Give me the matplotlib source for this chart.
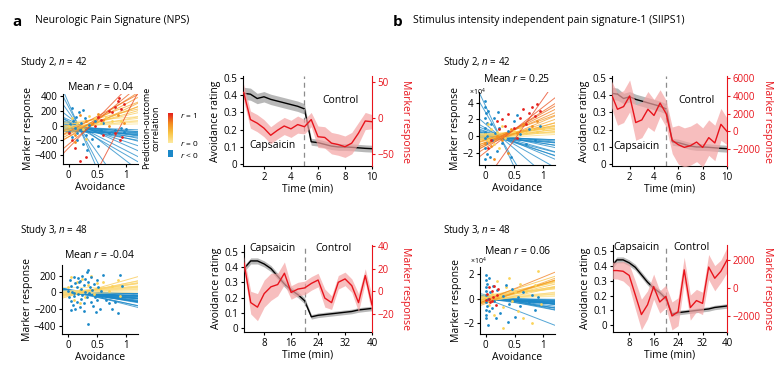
import numpy as np
import matplotlib
matplotlib.use("Agg")
import matplotlib.pyplot as plt
from matplotlib.colors import LinearSegmentedColormap

plt.rcParams['font.family'] = ['Open Sans', 'DejaVu Sans']
plt.rcParams['mathtext.fontset'] = 'custom'
plt.rcParams['mathtext.it'] = 'Open Sans:italic'
plt.rcParams['mathtext.rm'] = 'Open Sans'

# ---- time course data ----
t_s2 = [0.5, 1.0, 1.5, 2.0, 2.5, 3.0, 3.5, 4.0, 4.5, 5.0,
        5.5, 6.0, 6.5, 7.0, 7.5, 8.0, 8.5, 9.0, 9.5, 10.0]
t_s3 = [2, 4, 6, 8, 10, 12, 14, 16, 18, 20, 22, 24, 26, 28, 30, 32, 34, 36, 38, 40]

# avoidance rating (same in a and b)
avoid_s2 = [0.41, 0.405, 0.38, 0.39, 0.375, 0.365, 0.355, 0.345, 0.335, 0.32,
            0.13, 0.125, 0.115, 0.105, 0.10, 0.10, 0.098, 0.095, 0.092, 0.09]
avoid_s2_se = [0.035, 0.035, 0.03, 0.03, 0.03, 0.03, 0.03, 0.03, 0.03, 0.03,
               0.02, 0.02, 0.02, 0.02, 0.02, 0.02, 0.02, 0.02, 0.02, 0.02]
avoid_s3 = [0.39, 0.44, 0.44, 0.42, 0.39, 0.34, 0.29, 0.25, 0.22, 0.18,
            0.075, 0.085, 0.09, 0.095, 0.10, 0.105, 0.11, 0.12, 0.125, 0.13]
avoid_s3_se = [0.02, 0.02, 0.02, 0.02, 0.02, 0.02, 0.02, 0.02, 0.02, 0.02,
               0.015, 0.015, 0.015, 0.015, 0.015, 0.015, 0.015, 0.015, 0.015, 0.015]

# marker response time courses
nps_s2 = [36, -2, -7, -14, -24, -17, -11, -15, -9, -12,
          -2, -26, -27, -35, -37, -40, -35, -21, -4, -5]
nps_s2_se = [12, 12, 12, 12, 12, 12, 12, 12, 12, 10,
             10, 15, 15, 15, 15, 15, 15, 15, 12, 10]
nps_s3 = [25, -10, -14, -2, 4, 6, 16, -1, 2, 3,
          7, 10, -6, -10, 8, 11, 5, -10, 14, -12]
nps_s3_se = [6, 10, 12, 12, 12, 10, 10, 6, 6, 6,
             6, 6, 8, 6, 6, 6, 6, 8, 6, 8]
siips_s2 = [4200, 2500, 2800, 4000, 1000, 1300, 2500, 1800, 3200, 2000,
            -1000, -1500, -1800, -1600, -1200, -1800, -700, -1300, 800, 0]
siips_s2_se = [1500, 1800, 1800, 1800, 2000, 2000, 2000, 1800, 1500, 1500,
               1500, 2200, 2200, 2200, 2200, 2200, 2000, 2000, 1800, 1500]
siips_s3 = [1250, 1250, 1200, 900, -500, -1900, -1200, 100, -1000, -600,
            -2000, -1700, 1300, -1400, -900, -1100, 1500, 700, 1200, 2000]
siips_s3_se = [600, 600, 700, 800, 1000, 1100, 1000, 900, 800, 800,
               1000, 1000, 900, 900, 800, 800, 900, 900, 800, 900]

# ---- per-subject regression lines: r, intercept, slope ----
a2_r = [-0.1, -0.15, -0.2, -0.2, -0.25, -0.3, -0.3, -0.35, -0.4, -0.4, -0.45,
        -0.5, -0.5, -0.55, -0.6, -0.6, -0.65, -0.7, -0.3, -0.2, -0.5, -0.4,
        0.05, 0.08, 0.1, 0.12, 0.15, 0.18, 0.2, 0.25,
        0.35, 0.4, 0.45, 0.5, 0.5, 0.55, 0.4,
        0.7, 0.8, 0.9, 0.85, 0.75]
a2_b0 = [-20, -30, -10, 0, -40, 10, -50, 20, 30, -20, 40,
         60, 250, 300, 180, 50, 80, -60, -70, -80, 120, -30,
         0, -10, 30, -30, -20, 50, -60, -40,
         -60, -100, -80, -150, -40, -120, 10,
         -150, -250, -1350, -300, -80]
a2_b1 = [-30, -40, -60, -80, -50, -120, -60, -160, -200, -100, -260,
         -400, -1500, -1800, -1100, -450, -350, -80, -40, -20, -600, -140,
         20, 50, 30, 80, 100, 60, 150, 180,
         220, 300, 280, 380, 300, 420, 180,
         500, 650, 1500, 800, 420]

a3_r = [-0.05, -0.1, -0.1, -0.15, -0.2, -0.2, -0.25, -0.3, -0.3, -0.35, -0.1, -0.35,
        -0.4, -0.1, -0.2, -0.4, -0.15, -0.1, -0.45, -0.5, -0.2, -0.25, -0.25, -0.3,
        -0.5, -0.05, -0.3, -0.35,
        0.05, 0.08, 0.1, 0.12, 0.06, 0.15, 0.1, 0.18, 0.12, 0.03, 0.2, 0.15,
        0.05, 0.08, 0.18, 0.2, 0.06, 0.1, 0.3, 0.02]
a3_b0 = [0, 10, -10, 20, 5, -5, 15, 30, 0, 10, -20, 25, 40, -10, 5, 20, 0, -15,
         10, 30, -5, 15, 0, 20, 35, -10, 5, 10,
         -20, -10, 0, -30, 10, -15, 5, -25, -5, 20, -40, 0, -10, 15, -20, -30,
         10, -5, -50, 60]
a3_b1 = [-10, -20, -30, -40, -50, -60, -70, -80, -90, -100, -15, -110, -130, -25,
         -45, -120, -35, -20, -140, -160, -55, -75, -65, -95, -180, -5, -85, -105,
         20, 40, 60, 80, 30, 100, 50, 120, 70, 10, 150, 90, 25, 45, 110, 140,
         35, 65, 200, 0]

b2_r = [-0.2, -0.1, -0.1, -0.3, -0.2, -0.4, -0.5, -0.6, -0.7, -0.5, -0.3, -0.05,
        -0.4, -0.15, -0.35, -0.5, -0.4, -0.1,
        0.1, 0.15, 0.05, 0.2, 0.12, 0.25, 0.03, 0.1, 0.3, 0.2,
        0.4, 0.45, 0.35, 0.5, 0.45, 0.55, 0.35,
        0.7, 0.8, 0.65, 0.85, 0.75, 0.9, 0.6]
b2_b0 = [0.2, 0.0, -0.1, 0.3, 0.1, 0.5, 0.8, 3.0, 3.8, 1.5, 0.4, -0.2, 0.6, 0.0,
         0.2, 1.0, 0.3, -0.3,
         0.0, -0.2, 0.2, -0.4, 0.1, -0.1, 0.3, -0.3, 0.0, 0.2,
         -0.5, -0.8, -0.3, -1.0, -0.6, -1.2, -0.4,
         -1.0, -1.5, -0.8, -2.0, -1.2, -5.5, -0.5]
b2_b1 = [-0.8, -0.5, -0.3, -1.2, -1.0, -2.0, -3.0, -12, -15, -6, -1.5, -0.2, -2.5,
         -0.7, -1.8, -4, -2.2, -0.4,
         0.3, 0.6, 0.2, 0.8, 0.5, 0.9, 0.1, 0.4, 1.0, 0.6,
         1.5, 2.0, 1.2, 2.5, 1.8, 3.0, 1.0,
         3.5, 4.5, 3.0, 5.5, 4.0, 10, 2.5]

b3_r = [-0.05, -0.1, -0.05, -0.15, -0.2, -0.25, -0.1, -0.3, -0.15, -0.35, -0.05,
        -0.2, -0.6, -0.25, -0.4, -0.1, -0.15, -0.3, -0.05, -0.25, -0.2, -0.1, -0.3,
        -0.35,
        0.05, 0.1, 0.08, 0.15, 0.2, 0.12, 0.25, 0.18, 0.22, 0.3, 0.1, 0.3, 0.06,
        0.28, 0.15, 0.35, 0.08, 0.2, 0.32, 0.04,
        0.5, 0.45, 0.7, 0.6]
b3_b0 = [0.0, 0.1, -0.1, 0.05, 0.0, 0.15, -0.05, 0.1, 0.0, 0.2, -0.1, 0.05, 0.0,
         0.1, 0.3, 0.0, -0.05, 0.1, 0.0, 0.2, 0.05, -0.1, 0.0, 0.15,
         0.0, -0.1, 0.1, -0.2, 0.0, 0.2, -0.3, 0.1, -0.1, 0.0, 0.3, -0.2, 0.05,
         -0.15, 0.1, 0.0, -0.05, 0.2, -0.25, 0.0,
         -0.4, -0.2, -0.15, -0.3]
b3_b1 = [-0.1, -0.2, -0.05, -0.3, -0.4, -0.5, -0.15, -0.6, -0.25, -0.8, -0.1,
         -0.35, -1.8, -0.45, -1.0, -0.2, -0.3, -0.7, -0.05, -0.55, -0.4, -0.2,
         -0.65, -0.9,
         0.2, 0.4, 0.3, 0.6, 0.8, 0.5, 1.0, 0.7, 0.9, 1.2, 0.4, 1.3, 0.25, 1.1,
         0.6, 1.5, 0.35, 0.9, 1.4, 0.15,
         1.7, 1.4, 1.9, 1.5]

# ---- single-trial points (avoidance, marker response) by colour group ----
a2_blue = [(0.0, -80), (0.02, 20), (0.05, -150), (0.08, 60), (0.1, -30), (0.12, 120),
           (0.15, -200), (0.18, 180), (0.2, -60), (0.22, 40), (0.25, -250), (0.28, 100),
           (0.3, -120), (0.32, -330), (0.35, 10), (0.4, -180), (0.45, 60), (0.5, -280),
           (0.55, -60), (0.6, 30), (0.7, -100), (0.8, -60), (0.9, -30), (0.95, -80),
           (1.0, -40), (0.05, 240), (0.15, -100), (0.25, 210)]
a2_yellow = [(0.0, -10), (0.05, 100), (0.15, 40), (0.25, -40), (0.35, 130), (0.45, 100),
             (0.55, 40), (0.65, 120), (0.75, 60), (0.9, 70), (0.3, -180)]
a2_orange = [(0.1, -120), (0.2, 150), (0.3, 60), (0.4, 20), (0.5, 160), (0.6, 80),
             (0.7, 0), (0.85, 140), (0.95, 30), (0.1, -220)]
a2_red = [(0.0, -100), (0.05, -200), (0.1, -300), (0.2, -480), (0.45, -10), (0.5, 120),
          (0.55, 80), (0.6, -120), (0.7, 200), (0.75, 180), (0.8, 260), (0.85, 330),
          (0.88, -200), (0.9, 230), (0.95, 300), (0.92, -160), (0.3, -420), (0.8, -100),
          (0.87, 380)]

a3_blue = [(0.0, 20), (0.02, -60), (0.03, 150), (0.05, -100), (0.05, 80), (0.07, 0),
           (0.08, -150), (0.1, 190), (0.1, -40), (0.12, 110), (0.13, -200), (0.15, 60),
           (0.15, -120), (0.17, 170), (0.18, -20), (0.2, 140), (0.2, -170), (0.22, 40),
           (0.23, -80), (0.25, 200), (0.25, -30), (0.27, 90), (0.28, -130), (0.3, 160),
           (0.3, 10), (0.32, -60), (0.33, 250), (0.35, 120), (0.35, -380), (0.37, -10),
           (0.38, 70), (0.4, -110), (0.4, 180), (0.42, 30), (0.43, -160), (0.45, 100),
           (0.47, -50), (0.5, 150), (0.5, -90), (0.52, 60), (0.55, -200), (0.57, 20),
           (0.6, 210), (0.62, -30), (0.65, -90), (0.7, -130), (0.75, -200), (0.8, -110),
           (0.85, -250), (0.9, 210), (0.92, 80), (0.35, 270), (0.1, -5), (0.28, -220),
           (0.48, -230), (0.58, -40), (0.06, -210), (0.19, 120)]
a3_yellow = [(0.0, 60), (0.05, 180), (0.1, -90), (0.15, 120), (0.2, 30), (0.25, 160),
             (0.3, -60), (0.35, 90), (0.4, 200), (0.45, -20), (0.5, 110), (0.55, 40),
             (0.6, 130), (0.7, 20), (0.75, 80), (0.85, 150), (0.9, -40), (0.2, -130)]

b2_blue = [(0, 4.2), (0, 3.5), (0.02, 2.8), (0, 2.2), (0.03, 1.6), (0, 1.0), (0.01, 0.5),
           (0, -0.3), (0.02, -0.9), (0, -1.5), (0.04, -2.2), (0, -2.8), (0.05, 3.0),
           (0.1, 1.5), (0.12, -0.5), (0.15, 2.2), (0.18, 0.3), (0.2, -1.8), (0.25, 1.0),
           (0.3, -0.8), (0.4, 0.6), (0.45, -2.5), (0.5, 1.8), (0.55, 2.5), (0.6, 0.2),
           (0.7, -1.0), (0.75, 0.8), (0.85, -0.5), (0.95, 1.2), (0.08, -2.5), (0.03, 0.0),
           (0.22, 2.9)]
b2_yellow = [(0, 0.2), (0.05, -0.5), (0.1, 0.8), (0.15, -1.0), (0.2, 0.5), (0.3, 1.2),
             (0.35, -0.3), (0.5, 0.6), (0.6, 1.0), (0.7, 0.3), (0.8, 0.9), (0.9, 0.5),
             (1.0, 0.8), (0.25, -1.5), (0.05, 1.5)]
b2_orange = [(0, -0.8), (0.1, -1.2), (0.2, 0.0), (0.3, -0.5), (0.45, 0.9), (0.55, 0.4),
             (0.65, 1.5), (0.8, 1.2), (0.9, 1.8), (0.15, -2.8), (0.4, -2.0)]
b2_red = [(0.05, -1.5), (0.1, -0.5), (0.2, 1.8), (0.25, 0.8), (0.3, 2.0), (0.35, 1.2),
          (0.5, 1.0), (0.6, 2.2), (0.65, 3.2), (0.7, 1.5), (0.75, 2.8), (0.8, 3.5),
          (0.85, 2.4), (0.9, 3.8), (0.95, 3.0), (0.4, 2.6), (0.55, -0.3)]

b3_blue = [(0, 1.9), (0, 1.5), (0.02, 1.2), (0, 0.9), (0.01, 0.6), (0, 0.3), (0.03, 0.0),
           (0, -0.3), (0.02, -0.6), (0, -0.9), (0.01, -1.3), (0, -1.6), (0.03, -2.1),
           (0.05, 1.7), (0.08, 0.5), (0.1, -0.8), (0.12, 1.0), (0.15, -0.2), (0.2, 0.7),
           (0.25, -1.2), (0.3, 0.2), (0.35, 1.1), (0.4, -0.4), (0.45, 0.8), (0.5, -1.5),
           (0.55, 0.1), (0.6, -0.6), (0.65, 0.5), (0.75, -0.3), (0.8, 0.3), (0.85, -0.9),
           (0.9, 0.1), (0.38, -1.9), (0.18, -1.6), (0.06, -1.0)]
b3_yellow = [(0.0, 0.1), (0.05, -0.5), (0.1, 0.4), (0.15, -1.3), (0.2, 1.4), (0.25, 0.2),
             (0.3, -0.7), (0.35, 0.9), (0.4, 1.7), (0.45, -0.2), (0.5, 0.5), (0.55, -1.0),
             (0.6, 1.2), (0.7, 0.6), (0.8, -2.0), (0.85, 1.1), (0.9, 2.2), (0.95, -0.4),
             (0.3, -2.4), (0.65, -1.6)]
b3_red = [(0.0, -0.1), (0.02, 0.4), (0.05, 0.9), (0.08, -0.3), (0.1, 0.6), (0.12, 0.1),
          (0.15, 1.0), (0.18, -0.5), (0.2, 0.3), (0.22, 0.8), (0.05, 0.0), (0.1, -0.2)]

BLUE = '#1b88c8'
YELLOW = '#fbd35a'
ORANGE = '#f4901e'
RED = '#e5211d'
PINK = '#f4a3a3'
MRED = '#e8141c'
cmap = LinearSegmentedColormap.from_list('po', ['#fde9a0', '#f9c445', '#f28a1e', '#e5211d'])

W, H = 776, 368
fig = plt.figure(figsize=(W / 100, H / 100), dpi=100)


def rect(x0, y0, x1, y1):
    return [x0 / W, 1 - y1 / H, (x1 - x0) / W, (y1 - y0) / H]


def style(ax):
    for s in ['top', 'right']:
        ax.spines[s].set_visible(False)
    for s in ['left', 'bottom']:
        ax.spines[s].set_linewidth(0.8)
    ax.tick_params(labelsize=7, length=2.5, width=0.8, pad=1.5)


def scatter_panel(box, r, b0, b1, groups, ylim, yticks, title, tpad=3, scale_va=None):
    ax = fig.add_axes(rect(*box))
    style(ax)
    xs = np.array([-0.15, 1.25])
    order = np.argsort(r)
    for i in order:
        col = BLUE if r[i] < 0 else cmap(r[i])
        ax.plot(xs, b0[i] + b1[i] * xs, color=col, lw=0.7, alpha=0.75, zorder=1)
    for pts, col in groups:
        p = np.array(pts)
        ax.scatter(p[:, 0], p[:, 1], s=4, color=col, lw=0, zorder=3)
    ax.set_xlim(-0.1, 1.2)
    ax.set_ylim(*ylim)
    ax.set_xticks([0, 0.5, 1])
    ax.set_xticklabels(['0', '0.5', '1'])
    ax.set_yticks(yticks)
    ax.set_xlabel('Avoidance', fontsize=7.5, labelpad=1)
    ax.set_ylabel('Marker response', fontsize=7.5, labelpad=1)
    ax.set_title(title, fontsize=7.5, pad=tpad)
    if scale_va:
        ax.text(-0.02, 1.0, r'×10$^4$', transform=ax.transAxes, fontsize=5,
                ha='center', va=scale_va)
    return ax


def time_panel(box, t, avoid, avoid_se, mk, mk_se, xlim, xticks, ylim, mylim, myticks,
               split, labels, rpad):
    ax = fig.add_axes(rect(*box))
    style(ax)
    a = np.array(avoid)
    ase = np.array(avoid_se)
    ax.fill_between(t, a - ase, a + ase, color='#8a8a8a', alpha=0.6, lw=0)
    ax.plot(t, a, color='k', lw=1)
    ax.axvline(split, color='#8c8c8c', lw=0.9, ls=(0, (4, 3)))
    ax.set_xlim(*xlim)
    ax.set_ylim(*ylim)
    ax.set_xticks(xticks)
    ax.set_yticks([0, 0.1, 0.2, 0.3, 0.4, 0.5])
    ax.set_yticklabels(['0', '0.1', '0.2', '0.3', '0.4', '0.5'])
    ax.set_xlabel('Time (min)', fontsize=7.5, labelpad=1)
    ax.set_ylabel('Avoidance rating', fontsize=7.5, labelpad=2)
    for txt, x, y in labels:
        ax.text(x, y, txt, fontsize=7.5, ha='center', va='center')
    ax2 = ax.twinx()
    m = np.array(mk)
    mse = np.array(mk_se)
    ax2.fill_between(t, m - mse, m + mse, color=PINK, alpha=0.7, lw=0)
    ax2.plot(t, m, color=MRED, lw=1)
    ax2.set_ylim(*mylim)
    ax2.set_yticks(myticks)
    ax2.spines['top'].set_visible(False)
    ax2.spines['left'].set_visible(False)
    ax2.spines['bottom'].set_visible(False)
    ax2.spines['right'].set_color(MRED)
    ax2.spines['right'].set_linewidth(0.8)
    ax2.tick_params(axis='y', colors=MRED, labelsize=7, length=2.5, width=0.8, pad=1.5)
    ax2.set_ylabel('Marker response', color=MRED, fontsize=7.5, rotation=270,
                   labelpad=rpad)
    return ax


# ---- panel a ----
fig.text(12 / W, 1 - 22 / H, 'a', fontsize=11, fontweight='bold', va='center')
fig.text(35 / W, 1 - 21 / H, 'Neurologic Pain Signature (NPS)', fontsize=7.5, va='center')
fig.text(20 / W, 1 - 62 / H, 'Study 2, $n$ = 42', fontsize=7, va='center')
fig.text(20 / W, 1 - 230 / H, 'Study 3, $n$ = 48', fontsize=7, va='center')

scatter_panel((63, 94, 138, 164), a2_r, a2_b0, a2_b1,
              [(a2_blue, BLUE), (a2_yellow, YELLOW), (a2_orange, ORANGE), (a2_red, RED)],
              (-520, 430), [-400, -200, 0, 200, 400], 'Mean $r$ = 0.04')
scatter_panel((62, 265, 138, 334), a3_r, a3_b0, a3_b1,
              [(a3_yellow, YELLOW), (a3_blue, BLUE)],
              (-500, 330), [-400, -200, 0, 200], 'Mean $r$ = -0.04', tpad=5)

time_panel((243, 76, 372, 166), t_s2, avoid_s2, avoid_s2_se, nps_s2, nps_s2_se,
           (0.45, 10), [2, 4, 6, 8, 10], (-0.01, 0.51), (-67, 59), [-50, 0, 50], 5,
           [('Capsaicin', 2.6, 0.11), ('Control', 7.7, 0.37)], 12)
time_panel((244, 245, 372, 332), t_s3, avoid_s3, avoid_s3_se, nps_s3, nps_s3_se,
           (2, 40), [8, 16, 24, 32, 40], (-0.024, 0.544), (-36, 41), [-20, 0, 20, 40], 20,
           [('Capsaicin', 10.5, 0.52), ('Control', 28.5, 0.52)], 12)

# colour bar legend
cax = fig.add_axes(rect(168, 113, 173, 143))
cax.imshow(np.linspace(1, 0, 50).reshape(-1, 1), aspect='auto', cmap=cmap)
cax.axis('off')
bax = fig.add_axes(rect(168, 150, 173, 157))
bax.set_facecolor(BLUE)
bax.set_xticks([])
bax.set_yticks([])
for s in bax.spines.values():
    s.set_visible(False)
fig.text(180 / W, 1 - 115 / H, '$r$ = 1', fontsize=6, va='center')
fig.text(180 / W, 1 - 143 / H, '$r$ = 0', fontsize=6, va='center')
fig.text(180 / W, 1 - 155 / H, '$r$ < 0', fontsize=6, va='center')
fig.text(151 / W, 1 - 128 / H, 'Prediction-outcome\ncorrelation', fontsize=6.5,
         rotation=90, ha='center', va='center', linespacing=1.1)

# ---- panel b ----
fig.text(393 / W, 1 - 22 / H, 'b', fontsize=11, fontweight='bold', va='center')
fig.text(413 / W, 1 - 21 / H, 'Stimulus intensity independent pain signature-1 (SIIPS1)',
         fontsize=7.5, va='center')
fig.text(443 / W, 1 - 62 / H, 'Study 2, $n$ = 42', fontsize=7, va='center')
fig.text(443 / W, 1 - 230 / H, 'Study 3, $n$ = 48', fontsize=7, va='center')

scatter_panel((479, 92, 555, 165), b2_r, b2_b0, b2_b1,
              [(b2_blue, BLUE), (b2_yellow, YELLOW), (b2_orange, ORANGE), (b2_red, RED)],
              (-3.5, 5.3), [-2, 0, 2, 4], 'Mean $r$ = 0.25', tpad=7, scale_va='center')
scatter_panel((480, 267, 555, 334), b3_r, b3_b0, b3_b1,
              [(b3_yellow, YELLOW), (b3_blue, BLUE), (b3_red, RED)],
              (-2.86, 2.55), [-2, 0, 2], 'Mean $r$ = 0.06', tpad=9, scale_va='bottom')

time_panel((612, 76, 727, 166), t_s2, avoid_s2, avoid_s2_se, siips_s2, siips_s2_se,
           (0.55, 10), [2, 4, 6, 8, 10], (-0.01, 0.51), (-3900, 6250),
           [-2000, 0, 2000, 4000, 6000], 5,
           [('Capsaicin', 2.6, 0.1), ('Control', 7.5, 0.37)], 9)
time_panel((613, 245, 727, 332), t_s3, avoid_s3, avoid_s3_se, siips_s3, siips_s3_se,
           (2.7, 40), [8, 16, 24, 32, 40], (-0.045, 0.54), (-3150, 3080),
           [-2000, 0, 2000], 20,
           [('Capsaicin', 10.5, 0.52), ('Control', 28.5, 0.52)], 9)

fig.savefig('out.png', dpi=100)
